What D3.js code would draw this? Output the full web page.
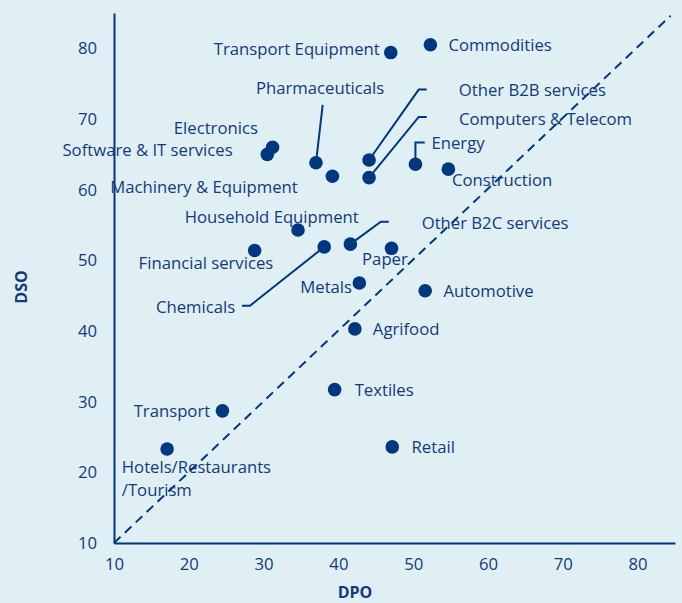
<!DOCTYPE html>
<html><head><meta charset="utf-8">
<script src="https://cdn.jsdelivr.net/npm/d3@7"></script>
<style>
html,body{margin:0;padding:0;background:#e0eff3;}
svg{display:block;}
text{font-family:"Open Sans",sans-serif;}
</style></head>
<body>
<svg id="chart" width="682" height="603"></svg>
<script>
// ---- data ----
const sectors = ["Transport Equipment","Commodities","Pharmaceuticals","Electronics","Software & IT services",
  "Machinery & Equipment","Household Equipment","Financial services","Chemicals","Other B2B services",
  "Computers & Telecom","Energy","Construction","Other B2C services","Paper","Metals","Automotive",
  "Agrifood","Textiles","Retail","Transport","Hotels/Restaurants/Tourism"];
const dpo = [47.0,52.3,37.0,31.2,30.5,39.2,34.6,28.8,38.1,44.1,44.1,50.3,54.7,41.6,47.1,42.8,51.6,42.2,39.5,47.2,24.5,17.1];
const dso = [79.4,80.5,63.8,66.0,65.0,61.9,54.3,51.4,51.9,64.2,61.7,63.6,62.9,52.3,51.7,46.8,45.7,40.3,31.7,23.6,28.7,23.3];
const xTicks = [10,20,30,40,50,60,70,80];
const yTicks = [10,20,30,40,50,60,70,80];

// ---- layout (label placement, px offsets from point) ----
const labelLayout = {
  "Transport Equipment":{dx:-11,dy:-4,a:"end"},
  "Commodities":{dx:18,dy:0,a:"start"},
  "Pharmaceuticals":{dx:-60,dy:-75,a:"start"},
  "Electronics":{dx:-14.7,dy:-20.2,a:"end"},
  "Software & IT services":{dx:-34.7,dy:-4.8,a:"end"},
  "Machinery & Equipment":{dx:-34.7,dy:10.3,a:"end"},
  "Household Equipment":{dx:-113.3,dy:-13,a:"start"},
  "Financial services":{dx:-116,dy:12.3,a:"start"},
  "Chemicals":{dx:-89,dy:59.7,a:"end"},
  "Other B2B services":{dx:89.7,dy:-70,a:"start"},
  "Computers & Telecom":{dx:90,dy:-59,a:"start"},
  "Energy":{dx:16,dy:-21.3,a:"start"},
  "Construction":{dx:3.7,dy:10.7,a:"start"},
  "Other B2C services":{dx:71.3,dy:-21.3,a:"start"},
  "Paper":{dx:16.3,dy:9.7,a:"end"},
  "Metals":{dx:-7.3,dy:3.7,a:"end"},
  "Automotive":{dx:18.3,dy:0,a:"start"},
  "Agrifood":{dx:18,dy:0,a:"start"},
  "Textiles":{dx:20,dy:0,a:"start"},
  "Retail":{dx:19.3,dy:0,a:"start"},
  "Transport":{dx:-12.3,dy:0,a:"end"},
  "Hotels/Restaurants/Tourism":{dx:-45.3,dy:17,a:"start",lines:["Hotels/Restaurants","/Tourism"]}
};
// leader line elbow points in data units
const leaders = {
  "Pharmaceuticals":[[37.9,72.0]],
  "Chemicals":[[28.17,43.57],[27.1,43.57]],
  "Other B2B services":[[50.74,74.16],[51.81,74.16]],
  "Computers & Telecom":[[50.74,70.3],[51.81,70.3]],
  "Energy":[[50.3,66.66],[51.54,66.66]],
  "Other B2C services":[[45.67,55.47],[46.73,55.47]]
};

const navy = "#003781";
const textCol = "#13397e";
const fs = 16.7;
const svg = d3.select("#chart");
const x = d3.scaleLinear().domain([10,85]).range([114,675]);
const y = d3.scaleLinear().domain([10,85]).range([543,13]);

// diagonal
svg.append("line")
  .attr("x1",x(10)).attr("y1",y(10)).attr("x2",x(84.4)).attr("y2",y(84.6))
  .attr("stroke",navy).attr("stroke-width",2).attr("stroke-dasharray","9,6");

// axes
const xAxis = svg.append("g").attr("transform",`translate(0,${y(10)})`)
  .call(d3.axisBottom(x).tickValues(xTicks).tickSize(0).tickPadding(15));
const yAxis = svg.append("g").attr("transform",`translate(${x(10)},0)`)
  .call(d3.axisLeft(y).tickValues(yTicks).tickSize(0).tickPadding(17));
[xAxis,yAxis].forEach(g=>{
  g.select(".domain").attr("stroke",navy).attr("stroke-width",2);
  g.selectAll("text").attr("fill",textCol).attr("font-size",fs).attr("font-family","Open Sans");
});

// axis titles
svg.append("text").attr("x",355).attr("y",598).attr("text-anchor","middle")
  .attr("font-weight","bold").attr("font-size",16).attr("fill",textCol).text("DPO");
svg.append("text").attr("transform","translate(21,287) rotate(-90)").attr("text-anchor","middle")
  .attr("dominant-baseline","central").attr("font-weight","bold").attr("font-size",16).attr("fill",textCol).text("DSO");

const data = sectors.map((s,i)=>({name:s,x:dpo[i],y:dso[i]}));

// leaders
const lineGen = d3.line();
data.forEach(d=>{
  if(leaders[d.name]){
    const pts=[[x(d.x),y(d.y)]].concat(leaders[d.name].map(p=>[x(p[0]),y(p[1])]));
    svg.append("path").attr("d",lineGen(pts)).attr("fill","none").attr("stroke",navy).attr("stroke-width",2);
  }
});

// points
svg.selectAll("circle.pt").data(data).enter().append("circle").attr("class","pt")
  .attr("cx",d=>x(d.x)).attr("cy",d=>y(d.y)).attr("r",6.8).attr("fill",navy);

// labels
data.forEach(d=>{
  const L=labelLayout[d.name];
  const lines=L.lines||[d.name];
  lines.forEach((t,k)=>{
    svg.append("text").attr("x",x(d.x)+L.dx).attr("y",y(d.y)+L.dy+k*23)
      .attr("text-anchor",L.a).attr("dominant-baseline","central")
      .attr("font-size",fs).attr("fill",textCol).text(t);
  });
});
</script>
</body></html>
